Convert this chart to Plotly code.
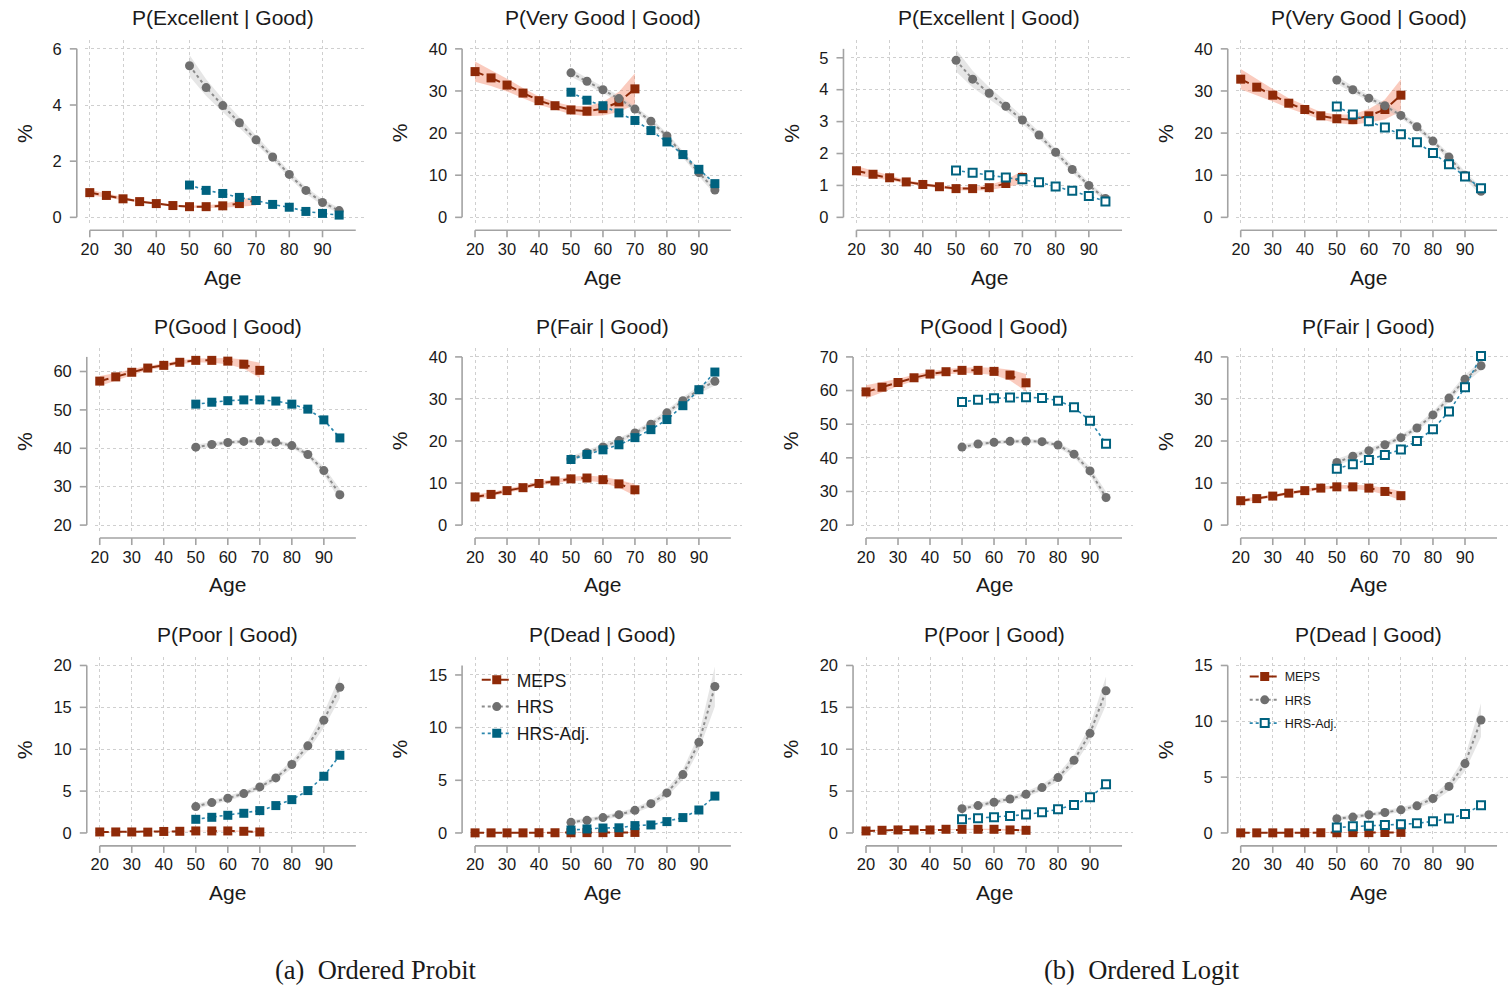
import plotly.graph_objects as go

W, H = 1511, 988

AGES_MEPS = [20, 25, 30, 35, 40, 45, 50, 55, 60, 65, 70]
AGES_HRS = [50, 55, 60, 65, 70, 75, 80, 85, 90, 95]
X_TICKS = [20, 30, 40, 50, 60, 70, 80, 90]
SERIES = ["MEPS", "HRS", "HRS-Adj."]

# ---------------- Ordered Probit ----------------
exc_pr_meps = [0.88, 0.78, 0.66, 0.56, 0.49, 0.42, 0.38, 0.38, 0.41, 0.49, 0.60]
exc_pr_meps_ci = [0.10, 0.07, 0.05, 0.04, 0.04, 0.04, 0.04, 0.05, 0.07, 0.11, 0.18]
exc_pr_hrs = [5.40, 4.62, 3.98, 3.37, 2.76, 2.15, 1.53, 0.96, 0.53, 0.24]
exc_pr_hrs_ci = [0.38, 0.30, 0.23, 0.18, 0.14, 0.12, 0.12, 0.12, 0.11, 0.09]
exc_pr_adj = [1.15, 0.96, 0.85, 0.71, 0.60, 0.46, 0.36, 0.21, 0.14, 0.08]

vg_pr_meps = [34.6, 33.1, 31.4, 29.5, 27.7, 26.5, 25.5, 25.2, 25.8, 27.4, 30.5]
vg_pr_meps_ci = [2.4, 1.9, 1.5, 1.2, 1.0, 0.9, 1.0, 1.2, 1.6, 2.4, 3.7]
vg_pr_hrs = [34.3, 32.3, 30.3, 28.2, 25.7, 22.8, 19.3, 14.9, 10.6, 6.5]
vg_pr_hrs_ci = [0.9, 0.8, 0.7, 0.7, 0.7, 0.7, 0.7, 0.8, 0.9, 1.0]
vg_pr_adj = [29.7, 27.8, 26.5, 24.8, 23.0, 20.6, 17.9, 14.9, 11.4, 8.0]

good_pr_meps = [57.5, 58.6, 59.8, 60.9, 61.6, 62.4, 62.9, 62.9, 62.7, 61.9, 60.3]
good_pr_meps_ci = [1.3, 1.0, 0.8, 0.6, 0.5, 0.5, 0.5, 0.6, 0.8, 1.2, 2.0]
good_pr_hrs = [40.3, 41.0, 41.5, 41.8, 41.9, 41.6, 40.7, 38.4, 34.2, 27.9]
good_pr_hrs_ci = [0.7, 0.6, 0.5, 0.5, 0.5, 0.5, 0.6, 0.7, 1.0, 1.5]
good_pr_adj = [51.5, 52.0, 52.4, 52.6, 52.6, 52.3, 51.5, 50.2, 47.4, 42.7]

fair_pr_meps = [6.7, 7.3, 8.2, 8.9, 9.9, 10.5, 11.0, 11.2, 10.8, 9.8, 8.4]
fair_pr_meps_ci = [0.6, 0.5, 0.5, 0.5, 0.5, 0.5, 0.5, 0.6, 0.7, 0.9, 1.4]
fair_pr_hrs = [15.7, 17.2, 18.6, 20.1, 21.9, 24.0, 26.7, 29.6, 32.2, 34.2]
fair_pr_hrs_ci = [0.7, 0.6, 0.6, 0.6, 0.6, 0.7, 0.7, 0.8, 0.9, 1.0]
fair_pr_adj = [15.6, 16.8, 17.9, 19.1, 20.8, 22.7, 25.1, 28.4, 32.2, 36.4]

poor_pr_meps = [0.12, 0.12, 0.12, 0.10, 0.18, 0.20, 0.24, 0.24, 0.24, 0.20, 0.12]
poor_pr_meps_ci = [0.05, 0.04, 0.04, 0.04, 0.04, 0.04, 0.04, 0.05, 0.06, 0.08, 0.10]
poor_pr_hrs = [3.15, 3.63, 4.14, 4.70, 5.50, 6.57, 8.17, 10.40, 13.47, 17.40]
poor_pr_hrs_ci = [0.30, 0.28, 0.28, 0.30, 0.33, 0.38, 0.46, 0.60, 0.90, 1.30]
poor_pr_adj = [1.63, 1.87, 2.11, 2.35, 2.67, 3.27, 3.98, 5.06, 6.77, 9.28]

dead_pr_meps = [0.01, 0.01, 0.01, 0.01, 0.02, 0.02, 0.02, 0.03, 0.03, 0.04, 0.05]
dead_pr_meps_ci = [0.02, 0.02, 0.02, 0.02, 0.02, 0.02, 0.02, 0.03, 0.03, 0.04, 0.05]
dead_pr_hrs = [1.01, 1.20, 1.46, 1.74, 2.15, 2.78, 3.80, 5.54, 8.60, 13.90]
dead_pr_hrs_ci = [0.20, 0.20, 0.20, 0.22, 0.25, 0.30, 0.38, 0.50, 0.75, 1.90]
dead_pr_adj = [0.28, 0.38, 0.47, 0.49, 0.70, 0.76, 1.08, 1.46, 2.18, 3.50]

# ---------------- Ordered Logit ----------------
exc_lg_meps = [1.46, 1.35, 1.24, 1.11, 1.03, 0.96, 0.90, 0.90, 0.93, 1.06, 1.25]
exc_lg_meps_ci = [0.15, 0.11, 0.08, 0.06, 0.05, 0.05, 0.05, 0.06, 0.08, 0.12, 0.20]
exc_lg_hrs = [4.92, 4.33, 3.89, 3.48, 3.05, 2.58, 2.04, 1.50, 1.00, 0.59]
exc_lg_hrs_ci = [0.35, 0.26, 0.19, 0.15, 0.12, 0.11, 0.11, 0.10, 0.09, 0.08]
exc_lg_adj = [1.47, 1.40, 1.32, 1.25, 1.19, 1.10, 0.97, 0.83, 0.67, 0.50]

vg_lg_meps = [32.8, 30.9, 29.0, 27.1, 25.6, 24.1, 23.4, 23.2, 24.1, 25.6, 29.0]
vg_lg_meps_ci = [2.4, 1.9, 1.5, 1.2, 1.0, 0.9, 1.0, 1.2, 1.6, 2.4, 3.8]
vg_lg_hrs = [32.6, 30.3, 28.3, 26.5, 24.2, 21.5, 18.1, 14.3, 10.0, 6.2]
vg_lg_hrs_ci = [0.9, 0.8, 0.7, 0.7, 0.7, 0.7, 0.7, 0.8, 0.9, 1.0]
vg_lg_adj = [26.3, 24.4, 22.8, 21.3, 19.7, 17.8, 15.3, 12.6, 9.7, 6.9]

good_lg_meps = [59.6, 61.0, 62.4, 63.8, 64.9, 65.6, 66.0, 66.0, 65.7, 64.6, 62.3]
good_lg_meps_ci = [2.0, 1.5, 1.1, 0.9, 0.8, 0.8, 0.8, 0.9, 1.1, 1.6, 2.6]
good_lg_hrs = [43.2, 44.1, 44.6, 44.9, 45.0, 44.8, 43.8, 41.1, 36.1, 28.2]
good_lg_hrs_ci = [0.8, 0.7, 0.6, 0.6, 0.6, 0.6, 0.7, 0.9, 1.2, 1.7]
good_lg_adj = [56.6, 57.3, 57.7, 57.9, 58.0, 57.8, 57.0, 55.0, 51.0, 44.2]

fair_lg_meps = [5.8, 6.3, 6.9, 7.6, 8.2, 8.8, 9.1, 9.1, 8.8, 8.0, 7.0]
fair_lg_meps_ci = [0.5, 0.4, 0.4, 0.4, 0.4, 0.4, 0.4, 0.5, 0.6, 0.8, 1.1]
fair_lg_hrs = [14.9, 16.4, 17.7, 19.1, 20.8, 23.1, 26.2, 30.2, 34.7, 37.9]
fair_lg_hrs_ci = [0.8, 0.7, 0.6, 0.6, 0.7, 0.7, 0.8, 0.9, 1.0, 1.1]
fair_lg_adj = [13.4, 14.5, 15.5, 16.7, 18.0, 20.0, 22.8, 27.0, 32.8, 40.2]

poor_lg_meps = [0.24, 0.32, 0.36, 0.36, 0.36, 0.44, 0.44, 0.44, 0.44, 0.36, 0.32]
poor_lg_meps_ci = [0.06, 0.05, 0.05, 0.05, 0.05, 0.05, 0.05, 0.06, 0.07, 0.09, 0.12]
poor_lg_hrs = [2.90, 3.27, 3.67, 4.06, 4.62, 5.42, 6.61, 8.68, 11.90, 16.97]
poor_lg_hrs_ci = [0.28, 0.28, 0.28, 0.30, 0.33, 0.38, 0.46, 0.60, 0.95, 1.70]
poor_lg_adj = [1.63, 1.75, 1.87, 2.03, 2.19, 2.47, 2.83, 3.35, 4.26, 5.82]

dead_lg_meps = [0.01, 0.01, 0.01, 0.01, 0.02, 0.02, 0.02, 0.03, 0.03, 0.04, 0.05]
dead_lg_meps_ci = [0.02, 0.02, 0.02, 0.02, 0.02, 0.02, 0.02, 0.03, 0.03, 0.04, 0.05]
dead_lg_hrs = [1.27, 1.42, 1.63, 1.83, 2.07, 2.43, 3.08, 4.17, 6.21, 10.12]
dead_lg_hrs_ci = [0.18, 0.18, 0.18, 0.20, 0.22, 0.25, 0.32, 0.42, 0.65, 1.50]
dead_lg_adj = [0.50, 0.59, 0.65, 0.71, 0.77, 0.86, 1.04, 1.30, 1.69, 2.49]

# panel list (row-major, 3 rows x 4 columns)
panels = [
    ("P(Excellent | Good)", exc_pr_meps, exc_pr_meps_ci, exc_pr_hrs, exc_pr_hrs_ci, exc_pr_adj, [0, 2, 4, 6], (0, 6), False),
    ("P(Very Good | Good)", vg_pr_meps, vg_pr_meps_ci, vg_pr_hrs, vg_pr_hrs_ci, vg_pr_adj, [0, 10, 20, 30, 40], (0, 40), False),
    ("P(Excellent | Good)", exc_lg_meps, exc_lg_meps_ci, exc_lg_hrs, exc_lg_hrs_ci, exc_lg_adj, [0, 1, 2, 3, 4, 5], (0, 5.28), True),
    ("P(Very Good | Good)", vg_lg_meps, vg_lg_meps_ci, vg_lg_hrs, vg_lg_hrs_ci, vg_lg_adj, [0, 10, 20, 30, 40], (0, 40), True),
    ("P(Good | Good)", good_pr_meps, good_pr_meps_ci, good_pr_hrs, good_pr_hrs_ci, good_pr_adj, [20, 30, 40, 50, 60], (20, 63.8), False),
    ("P(Fair | Good)", fair_pr_meps, fair_pr_meps_ci, fair_pr_hrs, fair_pr_hrs_ci, fair_pr_adj, [0, 10, 20, 30, 40], (0, 40), False),
    ("P(Good | Good)", good_lg_meps, good_lg_meps_ci, good_lg_hrs, good_lg_hrs_ci, good_lg_adj, [20, 30, 40, 50, 60, 70], (20, 70), True),
    ("P(Fair | Good)", fair_lg_meps, fair_lg_meps_ci, fair_lg_hrs, fair_lg_hrs_ci, fair_lg_adj, [0, 10, 20, 30, 40], (0, 40), True),
    ("P(Poor | Good)", poor_pr_meps, poor_pr_meps_ci, poor_pr_hrs, poor_pr_hrs_ci, poor_pr_adj, [0, 5, 10, 15, 20], (0, 20), False),
    ("P(Dead | Good)", dead_pr_meps, dead_pr_meps_ci, dead_pr_hrs, dead_pr_hrs_ci, dead_pr_adj, [0, 5, 10, 15], (0, 15.9), False),
    ("P(Poor | Good)", poor_lg_meps, poor_lg_meps_ci, poor_lg_hrs, poor_lg_hrs_ci, poor_lg_adj, [0, 5, 10, 15, 20], (0, 20), True),
    ("P(Dead | Good)", dead_lg_meps, dead_lg_meps_ci, dead_lg_hrs, dead_lg_hrs_ci, dead_lg_adj, [0, 5, 10, 15], (0, 15), True),
]

# ---------------- styling ----------------
FONT = "Liberation Sans, Arial, Helvetica, sans-serif"
SERIF = "Liberation Serif, Times New Roman, serif"
MEPS_C = "#8f2a08"
MEPS_BAND = "rgba(244,130,100,0.42)"
HRS_C = "#6f6f6f"
HRS_LINE = "#8c8c8c"
HRS_BAND = "rgba(190,190,190,0.38)"
ADJ_C = "#00627f"
ADJ_LINE = "#2a86ad"
AXIS_C = "#a3a3a3"
GRID_C = "#cfcfcf"
TXT = "#1a1a1a"

ROW_Y = {1: (49, 218), 2: (358, 526.7), 3: (667.5, 835.5)}


def col_x(row, col):
    # pixel x of age 20 and age 100 (axis-line extent)
    if col == 1:
        return (86, 352.7) if row == 1 else (96, 352.8)
    if col == 2:
        return (472.3, 728.8)
    if col == 3:
        return (854.7, 1121) if row == 1 else (864.3, 1121)
    return (1240, 1497)


def fx(px):
    return px / W


def fy(py):
    return 1 - py / H


fig = go.Figure()
shapes = []
annotations = []

for i, (title, meps, meps_ci, hrs, hrs_ci, adj, yticks, yr, hollow) in enumerate(panels):
    n = i + 1
    row, col = i // 4 + 1, i % 4 + 1
    xl, xr = col_x(row, col)
    yt, yb = ROW_Y[row]
    ymin, ymax = yr
    ppx = (xr - xl) / 80.0
    ppu = (yb - yt) / (ymax - ymin)
    xa = "x" if n == 1 else f"x{n}"
    ya = "y" if n == 1 else f"y{n}"
    xkey = "xaxis" if n == 1 else f"xaxis{n}"
    ykey = "yaxis" if n == 1 else f"yaxis{n}"

    leg = None
    if n == 10:
        leg = "legend"
    elif n == 12:
        leg = "legend2"
    show = leg is not None

    # confidence bands
    fig.add_trace(go.Scatter(
        x=AGES_MEPS + AGES_MEPS[::-1],
        y=[m + c for m, c in zip(meps, meps_ci)] + [m - c for m, c in zip(meps, meps_ci)][::-1],
        fill="toself", fillcolor=MEPS_BAND, line=dict(width=0), mode="lines",
        hoverinfo="skip", showlegend=False, xaxis=xa, yaxis=ya))
    fig.add_trace(go.Scatter(
        x=AGES_HRS + AGES_HRS[::-1],
        y=[m + c for m, c in zip(hrs, hrs_ci)] + [m - c for m, c in zip(hrs, hrs_ci)][::-1],
        fill="toself", fillcolor=HRS_BAND, line=dict(width=0), mode="lines",
        hoverinfo="skip", showlegend=False, xaxis=xa, yaxis=ya))

    # series
    fig.add_trace(go.Scatter(
        x=AGES_MEPS, y=meps, name=SERIES[0], mode="lines+markers",
        line=dict(color=MEPS_C, width=2, dash="dash"),
        marker=dict(symbol="square", size=9, color=MEPS_C),
        cliponaxis=False, showlegend=show, legend=leg or "legend",
        legendgroup=f"{n}-meps", xaxis=xa, yaxis=ya))
    fig.add_trace(go.Scatter(
        x=AGES_HRS, y=hrs, name=SERIES[1], mode="lines+markers",
        line=dict(color=HRS_LINE, width=2, dash="dot"),
        marker=dict(symbol="circle", size=9, color=HRS_C),
        cliponaxis=False, showlegend=show, legend=leg or "legend",
        legendgroup=f"{n}-hrs", xaxis=xa, yaxis=ya))
    if hollow:
        adj_marker = dict(symbol="square", size=8, color="white", line=dict(color=ADJ_C, width=2))
    else:
        adj_marker = dict(symbol="square", size=9, color=ADJ_C)
    fig.add_trace(go.Scatter(
        x=AGES_HRS, y=adj, name=SERIES[2], mode="lines+markers",
        line=dict(color=ADJ_LINE, width=1.6, dash="dot"),
        marker=adj_marker,
        cliponaxis=False, showlegend=show, legend=leg or "legend",
        legendgroup=f"{n}-adj", xaxis=xa, yaxis=ya))

    # axes (plot region slightly larger than the axis-scale range, Stata-style)
    fig.layout[xkey] = dict(
        domain=[fx(xl - 5), fx(xr + 11)], anchor=ya,
        range=[20 - 5 / ppx, 100 + 11 / ppx],
        tickvals=X_TICKS, ticks="", showline=False, zeroline=False,
        showgrid=True, gridcolor=GRID_C, griddash="dot", gridwidth=1,
        ticklabelstandoff=14, tickfont=dict(family=FONT, size=16.5, color=TXT))
    fig.layout[ykey] = dict(
        domain=[fy(yb + 6), fy(yt - 9)], anchor=xa,
        range=[ymin - 6 / ppu, ymax + 9 / ppu],
        tickvals=yticks, ticks="", showline=False, zeroline=False,
        showgrid=True, gridcolor=GRID_C, griddash="dot", gridwidth=1,
        ticklabelstandoff=22, tickfont=dict(family=FONT, size=16.5, color=TXT))

    # detached axis lines and tick marks
    ax_x = xl - 13
    shapes.append(dict(type="line", xref="paper", yref="paper",
                       x0=fx(ax_x), x1=fx(ax_x), y0=fy(yt), y1=fy(yb),
                       line=dict(color=AXIS_C, width=1.6)))
    for v in yticks:
        py = yb - (v - ymin) * ppu
        shapes.append(dict(type="line", xref="paper", yref="paper",
                           x0=fx(ax_x), x1=fx(ax_x - 7), y0=fy(py), y1=fy(py),
                           line=dict(color=AXIS_C, width=1.6)))
    ax_y = yb + 13
    shapes.append(dict(type="line", xref="paper", yref="paper",
                       x0=fx(xl), x1=fx(xr), y0=fy(ax_y), y1=fy(ax_y),
                       line=dict(color=AXIS_C, width=1.6)))
    for v in X_TICKS:
        px = xl + (v - 20) * ppx
        shapes.append(dict(type="line", xref="paper", yref="paper",
                           x0=fx(px), x1=fx(px), y0=fy(ax_y), y1=fy(ax_y + 7),
                           line=dict(color=AXIS_C, width=1.6)))

    # texts
    cx = (xl + xr) / 2
    annotations.append(dict(text=title, x=fx(cx), y=fy(yt - 31), xref="paper", yref="paper",
                            showarrow=False, xanchor="center", yanchor="middle",
                            font=dict(family=FONT, size=21, color=TXT)))
    annotations.append(dict(text="Age", x=fx(cx), y=fy(yb + 60), xref="paper", yref="paper",
                            showarrow=False, xanchor="center", yanchor="middle",
                            font=dict(family=FONT, size=21, color=TXT)))
    wide = max(len(str(v)) for v in yticks) > 1
    annotations.append(dict(text="%", x=fx(ax_x - (63 if wide else 53)), y=fy((yt + yb) / 2),
                            xref="paper", yref="paper", textangle=-90,
                            showarrow=False, xanchor="center", yanchor="middle",
                            font=dict(family=FONT, size=21, color=TXT)))

annotations.append(dict(text="(a)\u00a0\u00a0Ordered Probit", x=fx(373), y=fy(973), xref="paper", yref="paper",
                        showarrow=False, xanchor="center", yanchor="middle",
                        font=dict(family=SERIF, size=26.5, color=TXT)))
annotations.append(dict(text="(b)\u00a0\u00a0Ordered Logit", x=fx(1141), y=fy(973), xref="paper", yref="paper",
                        showarrow=False, xanchor="center", yanchor="middle",
                        font=dict(family=SERIF, size=26.5, color=TXT)))

fig.update_layout(
    width=W, height=H, autosize=False,
    margin=dict(l=0, r=0, t=0, b=0),
    paper_bgcolor="white", plot_bgcolor="white",
    shapes=shapes, annotations=annotations,
    legend=dict(x=fx(474), y=fy(664), xanchor="left", yanchor="top",
                bgcolor="rgba(0,0,0,0)", font=dict(family=FONT, size=17.5, color=TXT),
                tracegroupgap=1, itemwidth=30),
    legend2=dict(x=fx(1244), y=fy(664), xanchor="left", yanchor="top",
                 bgcolor="rgba(0,0,0,0)", font=dict(family=FONT, size=12.5, color=TXT),
                 tracegroupgap=4, itemwidth=30),
    hovermode=False,
)

fig.write_html("out.html")
